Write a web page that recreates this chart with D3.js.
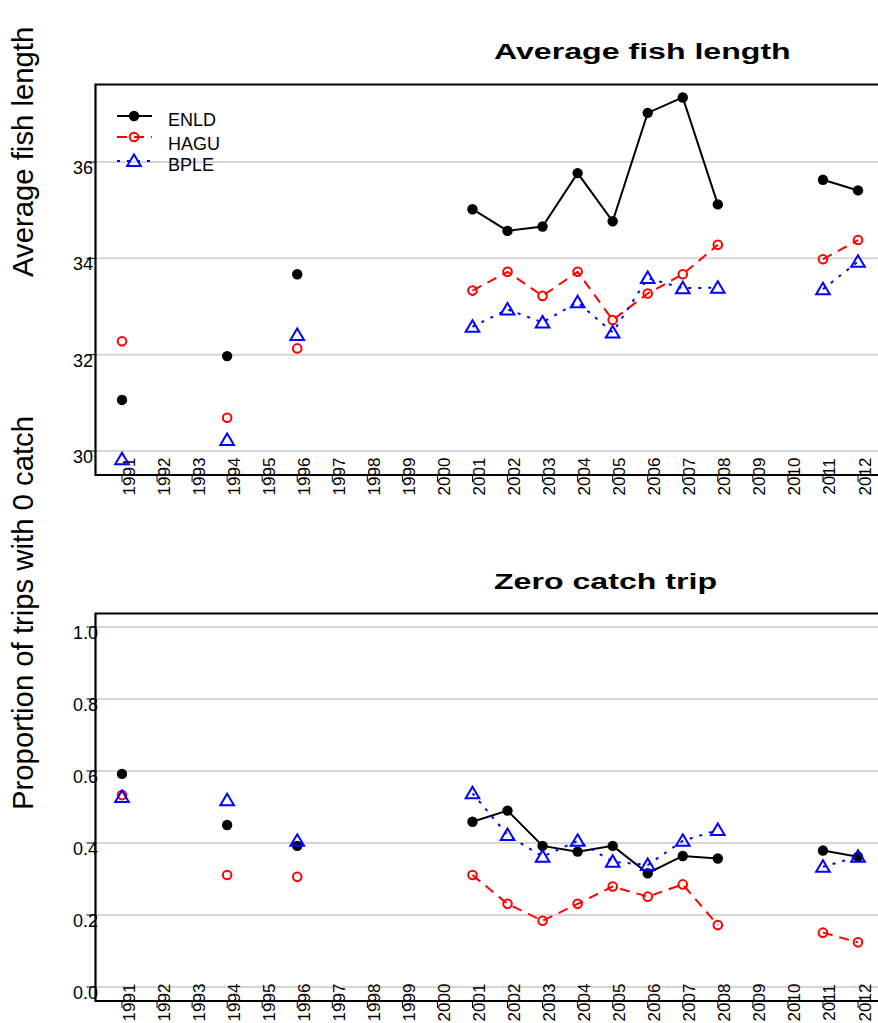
<!DOCTYPE html>
<html>
<head>
<meta charset="utf-8">
<script src="https://cdn.jsdelivr.net/npm/d3@7"></script>
<style>
  html, body { margin: 0; padding: 0; background: #fff; }
  svg { display: block; font-family: "Liberation Sans", Arial, sans-serif; }
</style>
</head>
<body>
<svg id="chart" width="878" height="1023"></svg>
<script>
// ---------------- DATA ----------------
const years = [1991,1992,1993,1994,1995,1996,1997,1998,1999,2000,2001,2002,2003,2004,2005,2006,2007,2008,2009,2010,2011,2012];
const seriesNames = ["ENLD", "HAGU", "BPLE"];

// Average fish length
const lenENLD = [31.06,null,null,31.97,null,33.67,null,null,null,null,35.02,34.57,34.66,35.77,34.77,37.02,37.34,35.12,null,null,35.63,35.41];
const lenHAGU = [32.28,null,null,30.69,null,32.13,null,null,null,null,33.33,33.72,33.22,33.72,32.72,33.27,33.67,34.28,null,null,33.98,34.38];
const lenBPLE = [29.83,null,null,30.23,null,32.41,null,null,null,null,32.58,32.94,32.67,33.09,32.46,33.59,33.38,33.39,null,null,33.36,33.93];

// Proportion of trips with 0 catch
const zeroENLD = [0.592,null,null,0.450,null,0.392,null,null,null,null,0.459,0.490,0.392,0.376,0.392,0.316,0.364,0.357,null,null,0.379,0.362];
const zeroHAGU = [0.533,null,null,0.311,null,0.306,null,null,null,null,0.311,0.231,0.184,0.231,0.279,0.251,0.285,0.172,null,null,0.151,0.124];
const zeroBPLE = [0.528,null,null,0.519,null,0.406,null,null,null,null,0.538,0.422,0.362,0.406,0.348,0.339,0.406,0.436,null,null,0.334,0.362];

const lenTicks = [30, 32, 34, 36];
const zeroTicks = [0.0, 0.2, 0.4, 0.6, 0.8, 1.0];

// ---------------- STYLE ----------------
const styles = {
  ENLD: { color: "#000000", dash: null, marker: "dot" },
  HAGU: { color: "#ff0000", dash: "10,7", marker: "circle" },
  BPLE: { color: "#0000ff", dash: "3,7", marker: "triangle" }
};

const svg = d3.select("#chart");
const x = d3.scaleLinear().domain([1991, 2012]).range([122, 858]);

function triPath() {
  return "M0,-6.5L6.8,5L-6.8,5Z";
}

function drawMarker(g, type, color, cx, cy) {
  if (type === "dot") {
    g.append("circle").attr("cx", cx).attr("cy", cy).attr("r", 5.2).attr("fill", color);
  } else if (type === "circle") {
    g.append("circle").attr("cx", cx).attr("cy", cy).attr("r", 4.3)
      .attr("fill", "none").attr("stroke", color).attr("stroke-width", 2);
  } else {
    g.append("path").attr("d", triPath()).attr("transform", `translate(${cx},${cy})`)
      .attr("fill", "none").attr("stroke", color).attr("stroke-width", 2)
      .attr("stroke-linejoin", "miter");
  }
}

function drawPanel(cfg) {
  const g = svg.append("g");
  const y = d3.scaleLinear().domain(cfg.domain).range(cfg.range);

  // gridlines
  g.selectAll(".grid").data(cfg.ticks).enter().append("line")
    .attr("x1", cfg.left).attr("x2", 878)
    .attr("y1", d => y(d)).attr("y2", d => y(d))
    .attr("stroke", "#d6d6d6").attr("stroke-width", 2);

  // box (open to the right, cut by the page edge)
  g.append("path")
    .attr("d", `M900,${cfg.top}H${cfg.left}V${cfg.bottom}H900`)
    .attr("fill", "none").attr("stroke", "#000").attr("stroke-width", 2.2);

  // y ticks and labels
  g.selectAll(".ytick").data(cfg.ticks).enter().append("line")
    .attr("x1", cfg.left - 9).attr("x2", cfg.left)
    .attr("y1", d => y(d)).attr("y2", d => y(d))
    .attr("stroke", "#000").attr("stroke-width", 1);
  g.selectAll(".ylab").data(cfg.ticks).enter().append("text")
    .attr("x", 73).attr("y", d => y(d) + 12)
    .attr("font-size", 18).attr("fill", "#000")
    .text(d => cfg.fmt(d));

  // x ticks and labels
  g.selectAll(".xtick").data(years).enter().append("line")
    .attr("x1", d => x(d)).attr("x2", d => x(d))
    .attr("y1", cfg.bottom).attr("y2", cfg.bottom + 7)
    .attr("stroke", "#000").attr("stroke-width", 1);
  g.selectAll(".xlab").data(years).enter().append("text")
    .attr("transform", d => `translate(${x(d) + 12.5},${cfg.bottom + cfg.xlabOff}) rotate(-90)`)
    .attr("text-anchor", "middle")
    .attr("font-size", 17).attr("fill", "#000")
    .text(d => d);

  // title (horizontally stretched as in the original)
  g.append("text")
    .attr("transform", `translate(494,${cfg.titleY}) scale(1.46,1)`)
    .attr("font-size", 22).attr("font-weight", "bold").attr("fill", "#000")
    .text(cfg.title);

  // y axis label
  g.append("text")
    .attr("transform", `translate(33,${cfg.ylabStart}) rotate(-90)`)
    .attr("font-size", 29.3).attr("fill", "#000")
    .text(cfg.ylab);

  // series
  cfg.series.forEach(s => {
    const st = styles[s.name];
    const pts = years.map((yr, i) => ({ yr, v: s.values[i] }));
    const line = d3.line().defined(d => d.v != null).x(d => x(d.yr)).y(d => y(d.v));
    g.append("path").attr("d", line(pts))
      .attr("fill", "none").attr("stroke", st.color).attr("stroke-width", 2)
      .attr("stroke-dasharray", st.dash);
    pts.filter(d => d.v != null).forEach(d => drawMarker(g, st.marker, st.color, x(d.yr), y(d.v)));
  });
}

drawPanel({
  domain: [30, 36], range: [451, 162], ticks: lenTicks, fmt: d => String(d),
  top: 84.5, bottom: 475, left: 95.5, xlabOff: 1.5,
  title: "Average fish length", titleY: 58.5,
  ylab: "Average fish length", ylabStart: 277,
  series: [
    { name: "ENLD", values: lenENLD },
    { name: "HAGU", values: lenHAGU },
    { name: "BPLE", values: lenBPLE }
  ]
});

drawPanel({
  domain: [0, 1], range: [987, 627], ticks: zeroTicks, fmt: d => d3.format(".1f")(d),
  top: 613.5, bottom: 1001, left: 95.5, xlabOff: 1.5,
  title: "Zero catch trip", titleY: 588.5,
  ylab: "Proportion of trips with 0 catch", ylabStart: 810,
  series: [
    { name: "ENLD", values: zeroENLD },
    { name: "HAGU", values: zeroHAGU },
    { name: "BPLE", values: zeroBPLE }
  ]
});

// legend (top panel)
const legend = svg.append("g");
const legendRows = [
  { name: "ENLD", ly: 116, ty: 126 },
  { name: "HAGU", ly: 137, ty: 150 },
  { name: "BPLE", ly: 161, ty: 171 }
];
legendRows.forEach(r => {
  const st = styles[r.name];
  legend.append("line").attr("x1", 117).attr("x2", 152).attr("y1", r.ly).attr("y2", r.ly)
    .attr("stroke", st.color).attr("stroke-width", 2).attr("stroke-dasharray", st.dash);
  drawMarker(legend, st.marker, st.color, 134, r.ly);
  legend.append("text").attr("x", 168).attr("y", r.ty).attr("font-size", 18).attr("fill", "#000").text(r.name);
});
</script>
</body>
</html>
